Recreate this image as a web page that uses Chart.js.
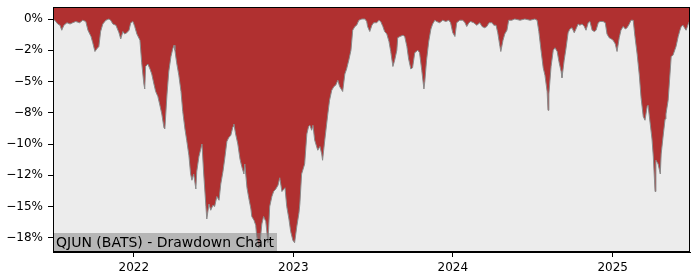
<!DOCTYPE html>
<html>
<head>
<meta charset="utf-8">
<script src="https://cdn.jsdelivr.net/npm/chart.js@4.4.1/dist/chart.umd.min.js"></script>
<style>
    html, body { margin: 0; padding: 0; background: #ffffff; }
    #wrap { width: 700px; height: 280px; }
</style>
</head>
<body>
<div id="wrap"><canvas id="ddChart" width="700" height="280"></canvas></div>
<script>
const chartTitle = 'QJUN (BATS) - Drawdown Chart';

const dates = [
    '2021-06-30', '2021-07-04', '2021-07-11', '2021-07-16', '2021-07-20', '2021-07-25', '2021-08-01', '2021-08-08',
    '2021-08-14', '2021-08-21', '2021-08-30', '2021-09-06', '2021-09-13', '2021-09-18', '2021-09-25', '2021-09-29',
    '2021-10-04', '2021-10-08', '2021-10-13', '2021-10-17', '2021-10-22', '2021-10-29', '2021-11-05', '2021-11-09',
    '2021-11-14', '2021-11-21', '2021-11-28', '2021-12-02', '2021-12-07', '2021-12-11', '2021-12-16', '2021-12-21',
    '2021-12-25', '2021-12-30',
    '2022-01-03', '2022-01-08', '2022-01-15', '2022-01-19', '2022-01-24', '2022-01-26', '2022-01-28', '2022-02-02',
    '2022-02-07', '2022-02-11', '2022-02-16', '2022-02-20', '2022-02-25', '2022-03-01', '2022-03-06', '2022-03-11',
    '2022-03-13', '2022-03-18', '2022-03-22', '2022-03-27', '2022-03-31', '2022-04-03', '2022-04-05', '2022-04-09',
    '2022-04-14', '2022-04-19', '2022-04-23', '2022-04-28', '2022-05-02', '2022-05-07', '2022-05-11', '2022-05-14',
    '2022-05-18', '2022-05-23', '2022-05-25', '2022-05-30', '2022-06-06', '2022-06-10', '2022-06-15', '2022-06-17',
    '2022-06-22', '2022-06-26', '2022-07-01', '2022-07-05', '2022-07-10', '2022-07-15', '2022-07-19', '2022-07-24',
    '2022-07-28', '2022-08-02', '2022-08-06', '2022-08-11', '2022-08-16', '2022-08-18', '2022-08-22', '2022-08-27',
    '2022-09-01', '2022-09-05', '2022-09-10', '2022-09-12', '2022-09-17', '2022-09-21', '2022-09-26', '2022-09-28',
    '2022-10-03', '2022-10-07', '2022-10-09', '2022-10-14', '2022-10-16', '2022-10-21', '2022-10-25', '2022-10-30',
    '2022-11-04', '2022-11-08', '2022-11-13', '2022-11-17', '2022-11-22', '2022-11-27', '2022-12-01', '2022-12-06',
    '2022-12-13', '2022-12-17', '2022-12-22', '2022-12-26', '2022-12-31',
    '2023-01-04', '2023-01-09', '2023-01-14', '2023-01-16', '2023-01-20', '2023-01-27', '2023-02-01', '2023-02-05',
    '2023-02-08', '2023-02-12', '2023-02-15', '2023-02-19', '2023-02-26', '2023-03-03', '2023-03-07', '2023-03-09',
    '2023-03-14', '2023-03-21', '2023-03-25', '2023-03-30', '2023-04-04', '2023-04-08', '2023-04-13', '2023-04-17',
    '2023-04-24', '2023-04-29', '2023-05-03', '2023-05-08', '2023-05-13', '2023-05-17', '2023-05-22', '2023-05-26',
    '2023-05-31', '2023-06-07', '2023-06-14', '2023-06-18', '2023-06-20', '2023-06-25', '2023-06-30', '2023-07-04',
    '2023-07-11', '2023-07-16', '2023-07-20', '2023-07-25', '2023-07-29', '2023-08-03', '2023-08-08', '2023-08-12',
    '2023-08-17', '2023-08-21', '2023-08-26', '2023-08-28', '2023-09-02', '2023-09-09', '2023-09-13', '2023-09-18',
    '2023-09-22', '2023-09-27', '2023-10-01', '2023-10-06', '2023-10-13', '2023-10-17', '2023-10-22', '2023-10-27',
    '2023-10-29', '2023-11-02', '2023-11-07', '2023-11-12', '2023-11-16', '2023-11-21', '2023-11-25', '2023-12-02',
    '2023-12-09', '2023-12-16', '2023-12-23', '2023-12-27',
    '2024-01-01', '2024-01-06', '2024-01-10', '2024-01-17', '2024-01-24', '2024-01-29', '2024-02-02', '2024-02-07',
    '2024-02-11', '2024-02-18', '2024-02-25', '2024-03-03', '2024-03-08', '2024-03-14', '2024-03-19', '2024-03-24',
    '2024-03-31', '2024-04-04', '2024-04-09', '2024-04-13', '2024-04-18', '2024-04-20', '2024-04-25', '2024-04-29',
    '2024-05-04', '2024-05-08', '2024-05-15', '2024-05-22', '2024-06-03', '2024-06-14', '2024-06-26', '2024-07-07',
    '2024-07-12', '2024-07-16', '2024-07-21', '2024-07-26', '2024-07-30', '2024-08-04', '2024-08-06', '2024-08-08',
    '2024-08-13', '2024-08-18', '2024-08-22', '2024-08-27', '2024-08-31', '2024-09-05', '2024-09-07', '2024-09-12',
    '2024-09-16', '2024-09-21', '2024-09-25', '2024-09-30', '2024-10-05', '2024-10-09', '2024-10-14', '2024-10-18',
    '2024-10-23', '2024-10-28', '2024-11-01', '2024-11-06', '2024-11-10', '2024-11-15', '2024-11-20', '2024-11-24',
    '2024-11-29', '2024-12-03', '2024-12-10', '2024-12-15', '2024-12-19', '2024-12-24', '2024-12-29',
    '2025-01-02', '2025-01-07', '2025-01-11', '2025-01-16', '2025-01-20', '2025-01-25', '2025-01-30', '2025-02-03',
    '2025-02-08', '2025-02-12', '2025-02-17', '2025-02-21', '2025-02-26', '2025-03-03', '2025-03-07', '2025-03-12',
    '2025-03-16', '2025-03-21', '2025-03-23', '2025-03-28', '2025-04-01', '2025-04-04', '2025-04-06', '2025-04-08',
    '2025-04-10', '2025-04-15', '2025-04-20', '2025-04-22', '2025-04-27', '2025-05-01', '2025-05-03', '2025-05-08',
    '2025-05-13', '2025-05-15', '2025-05-19', '2025-05-24', '2025-05-26', '2025-05-31', '2025-06-04', '2025-06-07',
    '2025-06-11', '2025-06-16', '2025-06-18', '2025-06-23', '2025-06-27'
];

// drawdown in percent, same order as dates
const drawdown = [
    0.0, -0.1, -0.4, -0.5, -0.9, -0.5, -0.3, -0.4,
    -0.3, -0.2, -0.3, -0.1, -0.2, -0.9, -1.4, -1.9,
    -2.6, -2.4, -2.2, -1.0, -0.4, -0.1, 0.0, -0.1,
    -0.4, -0.5, -1.1, -1.6, -1.0, -1.2, -1.1, -0.9,
    -0.3, -0.2,
    -0.6, -1.2, -1.7, -3.5, -5.2, -5.6, -3.8, -3.6,
    -4.0, -4.4, -5.2, -5.8, -6.2, -6.8, -7.6, -8.7,
    -8.8, -6.0, -4.2, -3.0, -2.4, -2.1, -2.5, -3.5,
    -4.5, -5.8, -7.4, -8.8, -9.7, -10.9, -12.4, -12.9,
    -12.4, -13.6, -12.2, -11.0, -10.0, -12.4, -15.0, -16.0,
    -14.8, -15.3, -14.9, -15.0, -14.2, -14.5, -13.2, -12.2,
    -11.2, -9.8, -9.5, -9.3, -8.6, -8.4, -9.2, -10.0,
    -11.2, -11.8, -12.4, -11.6, -13.5, -14.3, -15.2, -15.8,
    -16.1, -16.5, -17.3, -18.3, -18.2, -16.4, -15.8, -16.2,
    -17.9, -15.0, -14.2, -13.8, -13.6, -13.3, -12.7, -13.8,
    -13.5, -15.0, -16.0, -17.0, -17.7,
    -17.9, -16.6, -15.5, -14.8, -12.4, -11.6, -9.2, -8.6,
    -8.5, -8.9, -8.5, -9.7, -10.5, -10.2, -10.8, -11.3,
    -9.7, -7.6, -6.5, -5.7, -5.4, -5.3, -4.9, -5.4,
    -5.8, -4.4, -4.0, -3.3, -2.5, -0.9, -0.6, -0.5,
    -0.1, 0.0, 0.0, -0.2, -0.6, -1.0, -0.5, -0.3,
    -0.3, -0.1, -0.2, -0.6, -1.0, -1.2, -1.8, -2.6,
    -3.8, -3.3, -2.5, -1.5, -1.4, -1.3, -1.4, -2.2,
    -3.2, -4.0, -3.9, -2.7, -2.5, -2.7, -4.1, -5.6,
    -5.0, -3.3, -1.8, -0.8, -0.4, -0.1, -0.2, -0.3,
    -0.1, -0.2, -0.1, -0.3,
    -1.1, -1.4, -0.3, -0.1, -0.1, -0.3, -0.6, -0.3,
    -0.2, -0.3, -0.5, -0.3, -0.6, -0.7, -0.6, -0.3,
    -0.3, -0.5, -0.5, -1.1, -2.2, -2.6, -1.7, -1.2,
    -0.9, -0.1, -0.1, 0.0, -0.1, 0.0, -0.1, 0.0,
    -0.1, -1.0, -2.5, -3.9, -4.5, -5.8, -7.3, -6.0,
    -3.8, -2.5, -2.3, -2.6, -3.4, -4.2, -4.7, -3.3,
    -2.4, -1.1, -0.8, -0.7, -1.1, -0.8, -0.4, -0.5,
    -0.4, -0.6, -0.9, -0.3, -0.2, -0.9, -1.0, -0.9,
    -0.3, -0.2, -0.2, -0.3, -1.2, -1.5, -1.6,
    -1.7, -2.0, -2.6, -1.5, -0.9, -0.6, -0.8, -0.7,
    -0.4, -0.1, -0.1, -1.4, -2.8, -4.5, -6.3, -7.8,
    -8.1, -7.0, -6.9, -8.4, -9.6, -11.0, -12.4, -13.8,
    -11.3, -11.6, -12.4, -10.8, -9.2, -8.0, -7.6, -6.5,
    -4.0, -3.0, -2.9, -2.4, -2.2, -1.4, -0.9, -0.6,
    -0.5, -0.8, -0.9, -0.4, -0.1
];

const xTickLabels = ['2022', '2023', '2024', '2025'];
const yTickValues = [0, -2.5, -5, -7.5, -10, -12.5, -15, -17.5];
const yTickLabels = ['0%', '\u22122%', '\u22125%', '\u22128%', '\u221210%', '\u221212%', '\u221215%', '\u221218%'];

const yMin = -18.64;
const yMax = 0.96;

const points = dates.map((d, i) => ({ x: Date.parse(d), y: drawdown[i] }));

// plot background, title box and the frame on all four sides
const plotFrame = {
    id: 'plotFrame',
    beforeDatasetsDraw: chart => {
        const { ctx, chartArea: a } = chart;
        ctx.save();
        ctx.fillStyle = '#ececec';
        ctx.fillRect(a.left, a.top, a.right - a.left, a.bottom - a.top);
        ctx.restore();
    },
    afterDraw: chart => {
        const { ctx, chartArea: a } = chart;
        ctx.save();
        ctx.font = '14px "DejaVu Sans"';
        const w = ctx.measureText(chartTitle).width;
        ctx.fillStyle = 'rgba(128,128,128,0.5)';
        ctx.fillRect(a.left, a.bottom - 19, w + 6, 19);
        ctx.fillStyle = '#000000';
        ctx.textBaseline = 'alphabetic';
        ctx.fillText(chartTitle, a.left + 3, a.bottom - 5);
        ctx.strokeStyle = '#000000';
        ctx.lineWidth = 1;
        ctx.strokeRect(a.left + 0.5, a.top + 0.5, a.right - a.left - 1, a.bottom - a.top - 1);
        ctx.restore();
    }
};

const ctx = document.getElementById('ddChart').getContext('2d');

new Chart(ctx, {
    type: 'line',
    plugins: [plotFrame],
    data: {
        datasets: [
            {
                label: 'Drawdown',
                data: points,
                borderColor: '#8a8a8a',
                borderWidth: 1,
                backgroundColor: '#b03030',
                fill: 'end',
                pointRadius: 0,
                tension: 0
            }
        ]
    },
    options: {
        animation: false,
        responsive: false,
        devicePixelRatio: 1,
        layout: {
            padding: { left: 0, right: 10, top: 7, bottom: 0 }
        },
        plugins: {
            legend: { display: false },
            tooltip: { enabled: false }
        },
        scales: {
            x: {
                type: 'linear',
                min: points[0].x,
                max: points[points.length - 1].x,
                afterBuildTicks: scale => {
                    scale.ticks = xTickLabels.map(y => ({ value: Date.UTC(Number(y), 0, 1) }));
                },
                afterFit: scale => {
                    scale.height = 28;
                    scale.paddingLeft = 0;
                    scale.paddingRight = 0;
                },
                ticks: {
                    autoSkip: false,
                    maxRotation: 0,
                    padding: 4,
                    color: '#000000',
                    font: { family: 'DejaVu Sans', size: 12 },
                    callback: (value, i) => xTickLabels[i]
                },
                grid: {
                    drawOnChartArea: false,
                    drawTicks: true,
                    tickLength: 5,
                    color: '#000000'
                },
                border: { display: true, color: '#000000', width: 1 }
            },
            y: {
                min: yMin,
                max: yMax,
                afterBuildTicks: scale => {
                    scale.ticks = yTickValues.map(v => ({ value: v }));
                },
                afterFit: scale => {
                    scale.width = 53;
                    scale.paddingTop = 0;
                    scale.paddingBottom = 0;
                },
                ticks: {
                    autoSkip: false,
                    padding: 5,
                    color: '#000000',
                    font: { family: 'DejaVu Sans', size: 12 },
                    callback: (value, i) => yTickLabels[i]
                },
                grid: {
                    drawOnChartArea: false,
                    drawTicks: true,
                    tickLength: 5,
                    color: '#000000'
                },
                border: { display: true, color: '#000000', width: 1 }
            }
        }
    }
});
</script>
</body>
</html>
